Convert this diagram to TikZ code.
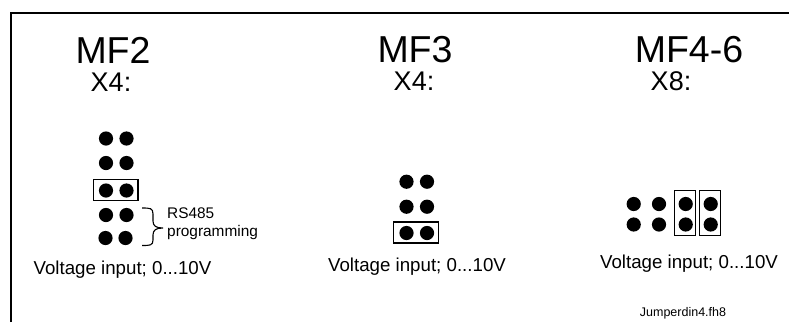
\documentclass[tikz,border=0pt]{standalone}
\usepackage{fontspec}
\setmainfont{Liberation Sans}
\usetikzlibrary{calc}
\tikzset{
    pindot/.style={circle,fill=black,inner sep=0pt,minimum size=14.2pt},
    jumperbox/.style={draw=black,line width=1.4pt,inner sep=0pt},
    title/.style={anchor=base,inner sep=0pt,font=\fontsize{37.5}{38}\selectfont},
    conn/.style={anchor=base,inner sep=0pt,font=\fontsize{27}{28}\selectfont},
    volt/.style={anchor=base,inner sep=0pt,font=\fontsize{18.7}{19}\selectfont},
    small/.style={anchor=base west,inner sep=0pt,font=\fontsize{15.4}{16}\selectfont},
}
\begin{document}
\begin{tikzpicture}[x=1pt,y=-1pt]
\useasboundingbox (0,0) rectangle (789,322);
\coordinate (frameA) at (11,322);
\coordinate (frameB) at (11,13);
\coordinate (frameC) at (789,13);
\draw[line width=1.5pt] (frameA) -- (frameB) -- (frameC);
\node[title] (mftwo) at (113,63) {MF2};
\node[conn] (xtwo) at (111,91.5) {X4:};
\foreach \name/\py in {a/138.5,b/163,c/190.5,d/215} {
    \node[pindot] (two\name l) at (106,\py) {};
    \node[pindot] (two\name r) at (126.5,\py) {};
}
\node[pindot] (twoel) at (105.5,238) {};
\node[pindot] (twoer) at (125.5,238) {};
\node[jumperbox,minimum width=44.5pt,minimum height=21pt] (twobox) at (115.7,189.7) {};
\coordinate (braceA) at (142,208);
\coordinate (braceB) at (163,228);
\coordinate (braceC) at (142,245.5);
\draw[line width=1.1pt] (braceA) .. controls (150,208) and (153,208) .. (153,214) -- (153,221)
    .. controls (153,226) and (156,228) .. (braceB) .. controls (156,228) and (153,230) .. (153,235)
    -- (153,240) .. controls (153,245.5) and (150,245.5) .. (braceC);
\node[small] (rs) at (167,218) {RS485};
\node[small] (prog) at (167,236) {programming};
\node[volt] (volttwo) at (122.5,274) {Voltage input; 0...10V};
\node[title] (mfthree) at (415,62) {MF3};
\node[conn] (xthree) at (414,90.5) {X4:};
\foreach \name/\py in {a/181.7,b/206.7,c/233} {
    \node[pindot] (three\name l) at (406.5,\py) {};
    \node[pindot] (three\name r) at (427,\py) {};
}
\node[jumperbox,minimum width=45pt,minimum height=21pt] (threebox) at (416.2,232.5) {};
\node[volt] (voltthree) at (417,271.5) {Voltage input; 0...10V};
\node[title] (mffour) at (689,62) {MF4-6};
\node[conn] (xfour) at (671,90) {X8:};
\foreach \name/\px in {a/633.7,b/659,c/685.7,d/710.7} {
    \node[pindot] (four\name t) at (\px,204) {};
    \node[pindot] (four\name b) at (\px,224.5) {};
}
\node[jumperbox,minimum width=20.6pt,minimum height=45pt] (fourboxa) at (685,212.8) {};
\node[jumperbox,minimum width=20.6pt,minimum height=45pt] (fourboxb) at (710,212.8) {};
\node[volt] (voltfour) at (689,268) {Voltage input; 0...10V};
\node[anchor=base,inner sep=0pt,font=\fontsize{12.5}{13}\selectfont] (fname) at (683,316) {Jumperdin4.fh8};
\end{tikzpicture}
\end{document}
